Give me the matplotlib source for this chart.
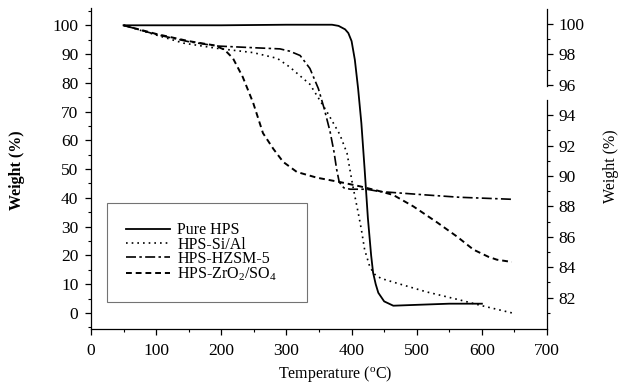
import matplotlib
matplotlib.use("Agg")
import matplotlib.pyplot as plt
from matplotlib.ticker import MultipleLocator, FixedLocator

plt.rcParams['font.family'] = ['Liberation Serif', 'DejaVu Serif']
plt.rcParams['mathtext.fontset'] = 'custom'
plt.rcParams['mathtext.rm'] = 'Liberation Serif'
plt.rcParams['mathtext.it'] = 'Liberation Serif:italic'

# curvas TGA (temperatura em °C, peso em %)
pure_t = [50, 100, 200, 300, 370, 380, 390, 395, 400, 405, 410, 415, 420, 425,
          430, 433, 437, 441, 450, 464, 500, 550, 600]
pure_w = [100, 100, 100, 100.2, 100.2, 99.8, 98.6, 97.3, 94.5, 88, 78, 66, 50, 33,
          20, 14, 10, 7, 4, 2.5, 2.8, 3.2, 3.2]

sial_t = [50, 90, 142, 193, 249, 286, 305, 336, 362, 382, 393, 402, 410, 415,
          420, 428, 435, 445, 464, 515, 566, 600, 646]
sial_w = [100, 97.3, 93.8, 92, 90.5, 88.5, 85.5, 79.5, 70, 62, 55.5, 44, 35, 29,
          22, 16, 13.5, 12, 10.7, 7.3, 4.5, 2.5, 0]

hzsm_t = [50, 100, 150, 193, 250, 290, 305, 321, 336, 349, 358, 367, 373, 377,
          381, 388, 398, 423, 443, 515, 566, 646]
hzsm_w = [100, 96.8, 94.3, 92.8, 92.2, 91.8, 91, 89.5, 85, 78, 71, 63, 56, 50,
          45.5, 43.5, 43, 43, 42.2, 41, 40.2, 39.5]

zro_t = [50, 75, 100, 150, 190, 205, 218, 233, 249, 264, 280, 295, 316, 347,
         382, 413, 440, 464, 495, 531, 562, 587, 610, 623, 646]
zro_w = [100, 98.5, 97, 94.5, 93, 91.5, 88.5, 82, 73, 62.5, 57, 52.5, 49, 47,
         45.5, 44, 42.5, 41, 37, 31.5, 26.5, 22, 19.5, 18.5, 17.7]

labels = ['Pure HPS', 'HPS-Si/Al', 'HPS-HZSM-5', 'HPS-ZrO$_2$/SO$_4$']

right_ticks = [82, 84, 86, 88, 90, 92, 94, 96, 98, 100]
right_minor = [81, 83, 85, 87, 89, 91, 93, 97, 99]

fig = plt.figure(figsize=(6.18, 3.83), dpi=100)
ax = fig.add_axes([0.1472, 0.141, 0.738, 0.838])

ax.plot(pure_t, pure_w, color='black', lw=1.3, ls='-', label=labels[0])
ax.plot(sial_t, sial_w, color='black', lw=1.2, ls=(0, (1, 2.4)), label=labels[1])
ax.plot(hzsm_t, hzsm_w, color='black', lw=1.2, ls=(0, (6, 2, 1.5, 2)), label=labels[2])
ax.plot(zro_t, zro_w, color='black', lw=1.4, ls=(0, (3, 2)), label=labels[3])

ax.set_xlim(0, 700)
ax.set_ylim(-5.6, 106)
ax.xaxis.set_major_locator(MultipleLocator(100))
ax.xaxis.set_minor_locator(MultipleLocator(50))
ax.yaxis.set_minor_locator(MultipleLocator(5))
ax.set_yticks(range(0, 101, 10))
ax.tick_params(which='major', direction='out', length=4, width=0.9, labelsize=12.5)
ax.tick_params(which='minor', direction='out', length=2.5, width=0.8)
ax.tick_params(axis='y', pad=5)
ax.tick_params(axis='x', pad=6)
ax.spines['top'].set_visible(False)
ax.spines['right'].set_visible(False)
for s in ['left', 'bottom']:
    ax.spines[s].set_linewidth(0.9)

ax.set_xlabel('Temperature ($^\\mathrm{o}$C)', fontsize=11.5)
ax.xaxis.set_label_coords(0.535, -0.11)
ax.set_ylabel('Weight (%)', fontsize=11.5, fontweight='bold')
ax.yaxis.set_label_coords(-0.145, 0.495)

# eixo da direita, com quebra entre 95 e 96
ax2 = ax.twinx()
ax2.set_ylim(79.93, 101.05)
ax2.yaxis.set_major_locator(FixedLocator(right_ticks))
ax2.yaxis.set_minor_locator(FixedLocator(right_minor))
ax2.tick_params(which='major', direction='out', length=4, width=0.9, labelsize=12.5, pad=4)
ax2.tick_params(which='minor', direction='out', length=2.5, width=0.8)
for s in ['top', 'right', 'left', 'bottom']:
    ax2.spines[s].set_visible(False)
ax2.plot([1, 1], [79.93, 95.0], transform=ax2.get_yaxis_transform(),
         color='black', lw=0.9, clip_on=False)
ax2.plot([1, 1], [95.9, 101.0], transform=ax2.get_yaxis_transform(),
         color='black', lw=0.9, clip_on=False)
ax2.set_ylabel('Weight (%)', fontsize=11.5)
ax2.yaxis.set_label_coords(1.122, 0.508)

leg = ax.legend(loc='upper left', bbox_to_anchor=(0.035, 0.0, 0.4386, 0.3925),
                mode='expand', borderaxespad=0,
                fontsize=11.5, frameon=True, fancybox=False, edgecolor='0.45',
                framealpha=1, handlelength=2.75, handletextpad=0.45,
                labelspacing=-0.1, borderpad=1.2)
leg.get_frame().set_linewidth(0.8)

plt.savefig('out.png', dpi=100)
